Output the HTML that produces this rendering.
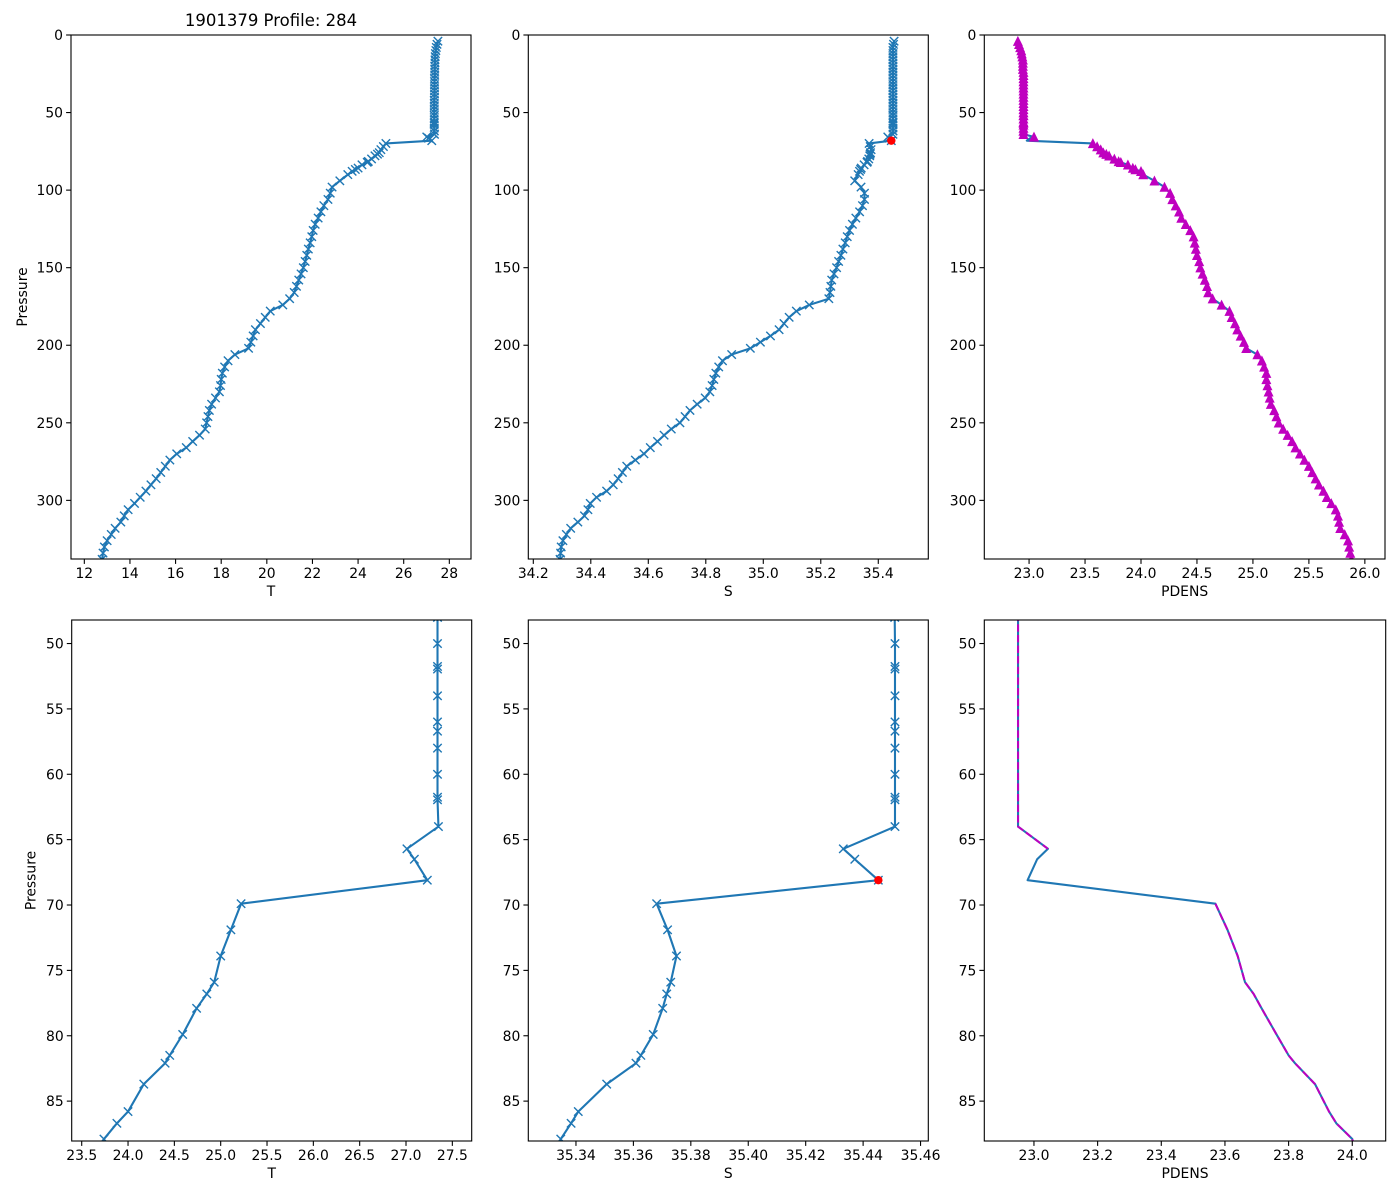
<!DOCTYPE html>
<html><head><meta charset="utf-8"><style>
html,body{margin:0;padding:0;background:#fff;width:1400px;height:1200px;overflow:hidden;}
svg{display:block;font-family:"DejaVu Sans","Liberation Sans",sans-serif;}
</style></head><body>
<svg id="fig" width="1400" height="1200" viewBox="0 0 1400 1200" xmlns="http://www.w3.org/2000/svg">
<rect width="1400" height="1200" fill="#fff"/>
<text x="271" y="26" font-size="16.5" text-anchor="middle">1901379 Profile: 284</text>
</svg>
<script>
const pres = [4,6,8,10,12,14,16,18,20,22,24,26,28,30,32,34,36,38,40,42,44,46,48,
50,51.75,51.95,54,56,56.7,58,60,61.75,61.95,64,65.7,66.5,68.1,69.9,71.9,73.9,75.9,76.8,77.9,79.9,81.5,82.1,83.7,85.8,86.7,87.9,
90,94,98,102,106,110,114,118,122,126,130,134,138,142,146,150,154,158,162,166,170,174,178,182,186,190,194,198,202,206,210,214,218,222,226,230,234,238,242,246,250,254,258,262,266,270,274,278,282,286,290,294,298,302,306,310,314,318,322,326,330,334,338];
const tempC = [27.50,27.46,27.43,27.41,27.39,27.38,27.37,27.37,27.36,27.36,27.36,27.36,27.35,27.35,27.35,27.35,27.35,27.35,27.35,27.34,27.34,27.34,27.34,
27.34,27.34,27.34,27.34,27.34,27.34,27.34,27.34,27.34,27.34,27.35,27.01,27.09,27.23,25.22,25.11,25.00,24.93,24.85,24.74,24.59,24.45,24.40,24.17,24.00,23.88,23.74,
23.55,23.2,22.86,22.78,22.68,22.5,22.37,22.25,22.12,22.03,21.97,21.9,21.82,21.75,21.68,21.6,21.5,21.4,21.3,21.2,21.0,20.7,20.15,19.93,19.72,19.5,19.4,19.3,19.2,18.6,18.3,18.15,18.05,18.0,17.97,17.92,17.75,17.58,17.48,17.42,17.36,17.3,17.05,16.75,16.47,16.05,15.75,15.55,15.35,15.15,14.92,14.7,14.45,14.2,13.92,13.75,13.6,13.35,13.18,13.0,12.88,12.82,12.78];
const sal = [35.455,35.453,35.451,35.451,35.451,35.451,35.451,35.451,35.451,35.451,35.451,35.451,35.451,35.451,35.451,35.451,35.451,35.451,35.451,35.451,35.451,35.451,35.451,
35.4511,35.4511,35.4511,35.4511,35.4511,35.4511,35.4511,35.4511,35.4511,35.4511,35.4511,35.4331,35.4371,35.4453,35.3681,35.3719,35.3750,35.3730,35.3716,35.3702,35.3669,35.3626,35.3609,35.3507,35.3408,35.3383,35.3347,
35.33,35.318,35.34,35.352,35.352,35.345,35.335,35.322,35.31,35.3,35.292,35.285,35.277,35.27,35.262,35.255,35.246,35.238,35.235,35.232,35.228,35.16,35.115,35.09,35.072,35.055,35.025,34.99,34.955,34.89,34.858,34.845,34.835,34.828,34.822,34.814,34.798,34.77,34.745,34.728,34.71,34.68,34.655,34.632,34.607,34.585,34.555,34.525,34.51,34.495,34.478,34.455,34.42,34.398,34.39,34.378,34.355,34.33,34.315,34.303,34.297,34.295,34.293];
const pdens = [22.90,22.91,22.92,22.93,22.935,22.94,22.945,22.945,22.945,22.945,22.95,22.95,22.95,22.95,22.95,22.95,22.95,22.95,22.95,22.95,22.95,22.95,22.95,
22.95,22.95,22.95,22.95,22.95,22.95,22.95,22.95,22.95,22.95,22.95,23.044,23.01,22.98,23.57,23.608,23.64,23.663,23.69,23.715,23.762,23.80,23.82,23.883,23.927,23.95,24.0,
24.02,24.12,24.21,24.26,24.28,24.31,24.34,24.36,24.4,24.44,24.47,24.48,24.49,24.5,24.52,24.53,24.55,24.57,24.59,24.6,24.64,24.72,24.79,24.81,24.84,24.86,24.89,24.92,24.94,25.04,25.08,25.1,25.12,25.12,25.13,25.14,25.15,25.16,25.19,25.21,25.23,25.27,25.31,25.35,25.38,25.42,25.46,25.5,25.53,25.56,25.59,25.63,25.66,25.7,25.74,25.76,25.77,25.78,25.82,25.85,25.86,25.87,25.88];
const pdensGapPres = [66.5, 68.1];
const flagPres = [68.1];
const topYTicks = [0,50,100,150,200,250,300];
const botYTicks = [50,55,60,65,70,75,80,85];
const tTicksTop = [12,14,16,18,20,22,24,26,28];
const sTicksTop = [34.2,34.4,34.6,34.8,35.0,35.2,35.4];
const dTicksTop = [23.0,23.5,24.0,24.5,25.0,25.5,26.0];
const tTicksBot = [23.5,24.0,24.5,25.0,25.5,26.0,26.5,27.0,27.5];
const sTicksBot = [35.34,35.36,35.38,35.40,35.42,35.44,35.46];
const dTicksBot = [23.0,23.2,23.4,23.6,23.8,24.0];

const NS = "http://www.w3.org/2000/svg";
const fig = document.getElementById('fig');
const BLUE = '#1f77b4', MAG = '#bf00bf';
function mk(tag, attrs, parent){ const e=document.createElementNS(NS,tag); for(const k in attrs) e.setAttribute(k,attrs[k]); (parent||fig).appendChild(e); return e; }
let clipN=0;
function panel(box, xr, yr, xticks, yticks, xdec, ydec, xlabel, ylabel, name){
  const [L,T,R,B]=box;
  const g=mk('g',{});
  
  
  const sx=v=>L+(v-xr[0])/(xr[1]-xr[0])*(R-L);
  const sy=v=>T+(v-yr[0])/(yr[1]-yr[0])*(B-T);
  const id='c'+(clipN++);
  const cp=mk('clipPath',{id:id},g); mk('rect',{x:L,y:T,width:R-L,height:B-T},cp);
  const plot=mk('g',{'clip-path':'url(#'+id+')'},g);
  
  
  xticks.forEach(v=>{ const x=sx(v);
    mk('line',{x1:x,y1:B,x2:x,y2:B+4.9,stroke:'#000','stroke-width':1.1},g);
    const t=mk('text',{x:x,y:B+19,'font-size':13.9,'text-anchor':'middle'},g); t.textContent=v.toFixed(xdec);
    
    
  });
  yticks.forEach(v=>{ const y=sy(v);
    mk('line',{x1:L-4.9,y1:y,x2:L,y2:y,stroke:'#000','stroke-width':1.1},g);
    const t=mk('text',{x:L-8,y:y+5,'font-size':13.9,'text-anchor':'end'},g); t.textContent=v.toFixed(ydec);
    
    
  });
  const xl=mk('text',{x:(L+R)/2,y:B+37,'font-size':13.9,'text-anchor':'middle'},g); xl.textContent=xlabel;
  
  
  if(ylabel){ const yx=L-(yr[1]>100?44:36); const yl=mk('text',{x:yx,y:(T+B)/2,'font-size':13.9,'text-anchor':'middle',transform:'rotate(-90 '+yx+' '+((T+B)/2)+')'},g); yl.textContent=ylabel;
    
     }
  const fr=mk('rect',{x:L,y:T,width:R-L,height:B-T,fill:'none',stroke:'#000','stroke-width':1.1},g);
  
  
  return {plot,sx,sy};
}
function linePath(P,vals,sx,sy,skip){
  let d='',pen=false;
  for(let i=0;i<P.length&&i<vals.length;i++){
    if(skip&&skip.includes(P[i])){pen=false;continue;}
    d+=(pen?'L':'M')+sx(vals[i]).toFixed(2)+' '+sy(P[i]).toFixed(2); pen=true;
  }
  return d;
}
function drawX(ax,P,vals){
  const h=4.2; let d='';
  for(let i=0;i<P.length&&i<vals.length;i++){ const x=ax.sx(vals[i]),y=ax.sy(P[i]);
    d+=`M${x-h} ${y-h}L${x+h} ${y+h}M${x-h} ${y+h}L${x+h} ${y-h}`; }
  const m=mk('path',{d:d,stroke:BLUE,'stroke-width':1.4,fill:'none'},ax.plot);
  
  
}
function drawTri(ax,P,vals,skip){
  const h=4.2; let d='';
  for(let i=0;i<P.length&&i<vals.length;i++){ if(skip.includes(P[i])) continue; const x=ax.sx(vals[i]),y=ax.sy(P[i]);
    d+=`M${x} ${y-h}L${x-h} ${y+h}L${x+h} ${y+h}Z`; }
  const m=mk('path',{d:d,fill:MAG,stroke:MAG,'stroke-width':1},ax.plot);
  
  
}
function mainLine(ax,vals){
  const l=mk('path',{d:linePath(pres,vals,ax.sx,ax.sy),stroke:BLUE,'stroke-width':2.1,fill:'none','stroke-linejoin':'round'},ax.plot);
  
  
}
function flagDot(ax){
  flagPres.forEach(p=>{ const i=pres.indexOf(p);
    const c=mk('circle',{cx:ax.sx(sal[i]),cy:ax.sy(p),r:4.2,fill:'red'},ax.plot);
    
    
  });
}
const topY=[0,337.8], botY=[48.2,88.05];
const a1=panel([71,35,471,559],[11.416,28.95],topY,tTicksTop,topYTicks,0,0,'T','Pressure','temperature-panel');
mainLine(a1,tempC); drawX(a1,pres,tempC);
const a2=panel([528.3,35,928.3,559],[34.1826,35.574],topY,sTicksTop,topYTicks,1,0,'S',null,'salinity-panel');
mainLine(a2,sal); drawX(a2,pres,sal); flagDot(a2);
const a3=panel([984.3,35,1385,559],[22.60,26.18],topY,dTicksTop,topYTicks,1,0,'PDENS',null,'density-panel');
mainLine(a3,pdens); drawTri(a3,pres,pdens,pdensGapPres);
const b1=panel([71.7,620,471.7,1141],[23.392,27.709],botY,tTicksBot,botYTicks,1,0,'T','Pressure','temperature-zoom-panel');
mainLine(b1,tempC); drawX(b1,pres,tempC);
const b2=panel([528.3,620,928.3,1141],[35.3234,35.4627],botY,sTicksBot,botYTicks,2,0,'S',null,'salinity-zoom-panel');
mainLine(b2,sal); drawX(b2,pres,sal); flagDot(b2);
const b3=panel([984.3,620,1385.7,1141],[22.844,24.105],botY,dTicksBot,botYTicks,1,0,'PDENS',null,'density-zoom-panel');
mainLine(b3,pdens);
const dl=mk('path',{d:linePath(pres,pdens,b3.sx,b3.sy,pdensGapPres),stroke:MAG,'stroke-width':2,fill:'none','stroke-dasharray':'7.4 3.2'},b3.plot);


</script>
</body></html>
